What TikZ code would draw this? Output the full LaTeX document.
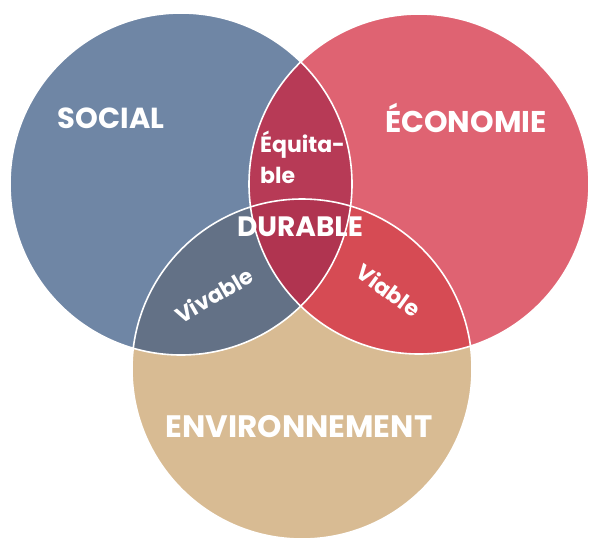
\documentclass[tikz,border=0pt]{standalone}
\usepackage{fontspec}
\setmainfont{Poppins}
\definecolor{cblue}{HTML}{6F86A5}
\definecolor{cred}{HTML}{DF6372}
\definecolor{cbeige}{HTML}{D8BB93}
\definecolor{cbr}{HTML}{B73A56}
\definecolor{cbb}{HTML}{637186}
\definecolor{crb}{HTML}{D64B54}
\definecolor{ccen}{HTML}{B03450}
\begin{document}
\begin{tikzpicture}[x=1pt,y=-1pt,
  lbl/.style={text=white,inner sep=0pt},
  big/.style={lbl,font=\fontsize{29}{32}\selectfont\bfseries},
  small/.style={lbl,font=\fontsize{22}{31}\selectfont\bfseries}]
\useasboundingbox (0,0) rectangle (589,539);
\def\blue{(181,184) circle (171)}
\def\red{(419,184) circle (170)}
\def\beige{(302,369) circle (170)}
\fill[cblue] \blue;
\fill[cred] \red;
\fill[cbeige] \beige;
\begin{scope}
  \clip \blue;
  \fill[cbr] \red;
  \fill[cbb] \beige;
\end{scope}
\begin{scope}
  \clip \red;
  \fill[crb] \beige;
\end{scope}
\begin{scope}
  \clip \blue;
  \clip \red;
  \fill[ccen] \beige;
\end{scope}
\draw[white,line width=1.6pt] \blue \red \beige;
\node[big] (social) at (111,118) {SOCIAL};
\node[big,font=\fontsize{30}{32}\selectfont\bfseries] (eco) at (466,118) {ÉCONOMIE};
\node[big,font=\fontsize{31}{32}\selectfont\bfseries] (env) at (299,427) {ENVIRONNEMENT};
\node[big,font=\fontsize{28}{30}\selectfont\bfseries] (dur) at (300,227) {DURABLE};
\node[small,align=left,anchor=west] (equ) at (260,157) {Équita-\\ble};
\node[small,rotate=30] (viv) at (214,295) {Vivable};
\node[small,rotate=-36] (via) at (389,290) {Viable};
\end{tikzpicture}
\end{document}
